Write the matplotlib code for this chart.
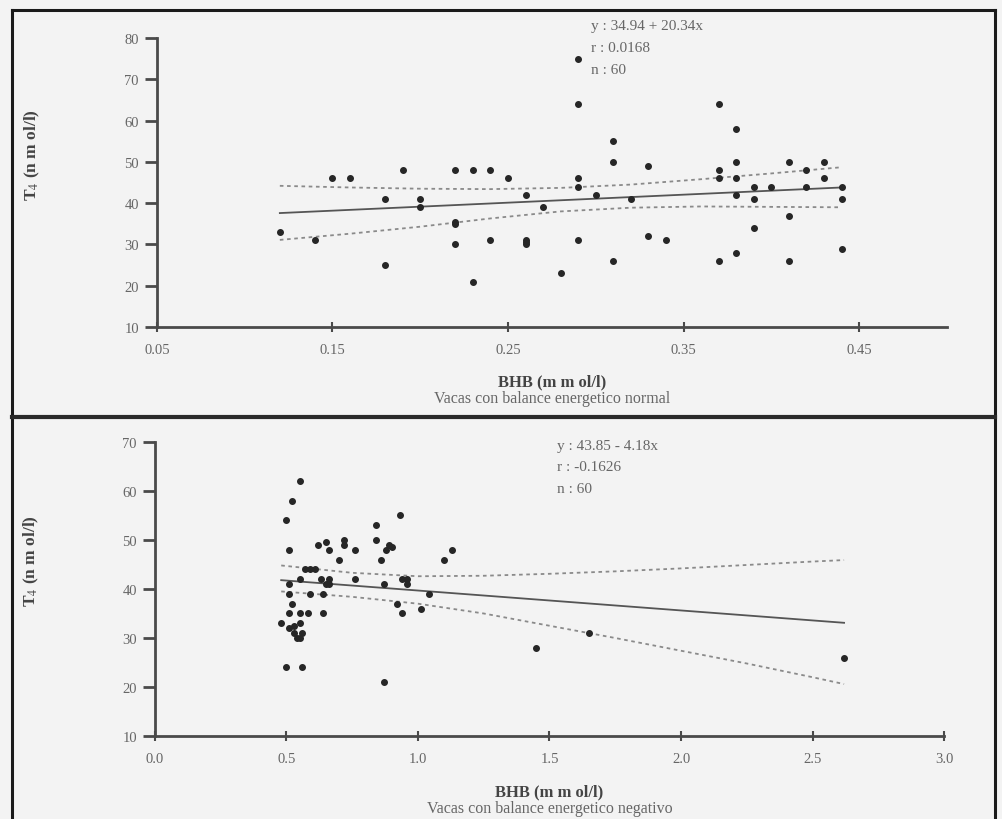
import matplotlib
matplotlib.use('Agg')
import matplotlib.pyplot as plt
from matplotlib.lines import Line2D

# Top panel: cows with normal energy balance
normal_bhb = [0.12, 0.14, 0.15, 0.16, 0.18, 0.18, 0.19, 0.20, 0.20, 0.22,
              0.22, 0.22, 0.22, 0.23, 0.23, 0.24, 0.24, 0.25, 0.26, 0.26,
              0.26, 0.26, 0.27, 0.28, 0.29, 0.29, 0.29, 0.29, 0.29, 0.30,
              0.31, 0.31, 0.31, 0.32, 0.33, 0.33, 0.34, 0.37, 0.37, 0.37,
              0.37, 0.38, 0.38, 0.38, 0.38, 0.38, 0.39, 0.39, 0.39, 0.40,
              0.41, 0.41, 0.41, 0.42, 0.42, 0.43, 0.43, 0.44, 0.44, 0.44]
normal_t4 = [33, 31, 46, 46, 41, 25, 48, 41, 39, 48,
             35, 35.5, 30, 48, 21, 48, 31, 46, 42, 31,
             30, 30.5, 39, 23, 75, 64, 46, 44, 31, 42,
             55, 50, 26, 41, 49, 32, 31, 64, 48, 46,
             26, 58, 50, 46, 42, 28, 44, 41, 34, 44,
             50, 37, 26, 48, 44, 50, 46, 44, 41, 29]
normal_fit_x = [0.12, 0.44]
normal_fit_y = [37.6, 43.8]
normal_band_x = [0.12, 0.16, 0.20, 0.24, 0.28, 0.32, 0.36, 0.40, 0.44]
normal_band_hi = [44.2, 43.8, 43.5, 43.4, 43.7, 44.5, 45.8, 47.2, 48.7]
normal_band_lo = [31.1, 32.6, 34.3, 36.3, 38.0, 38.9, 39.2, 39.1, 39.0]
normal_stats = ['y : 34.94 + 20.34x', 'r : 0.0168', 'n : 60']

# Bottom panel: cows with negative energy balance
neg_bhb = [0.50, 0.52, 0.55, 0.51, 0.50, 0.56, 0.51, 0.55, 0.51, 0.52,
           0.51, 0.55, 0.58, 0.48, 0.55, 0.51, 0.53, 0.55, 0.56, 0.54,
           0.59, 0.61, 0.59, 0.64, 0.64, 0.63, 0.65, 0.66, 0.62, 0.65,
           0.66, 0.70, 0.72, 0.72, 0.76, 0.76, 0.84, 0.84, 0.86, 0.87,
           0.87, 0.89, 0.90, 0.88, 0.93, 0.94, 0.96, 0.92, 0.94, 1.01,
           1.04, 1.10, 1.13, 1.45, 1.65, 2.62, 0.66, 0.53, 0.57, 0.96]
neg_t4 = [54, 58, 62, 48, 24, 24, 41, 42, 39, 37,
          35, 35, 35, 33, 33, 32, 31, 30, 31, 30,
          44, 44, 39, 39, 35, 42, 41, 42, 49, 49.5,
          48, 46, 49, 50, 48, 42, 53, 50, 46, 41,
          21, 49, 48.5, 48, 55, 42, 41, 37, 35, 36,
          39, 46, 48, 28, 31, 26, 41, 32.5, 44, 42]
neg_fit_x = [0.48, 2.62]
neg_fit_y = [41.8, 33.1]
neg_band_x = [0.48, 0.75, 1.0, 1.25, 1.5, 1.75, 2.0, 2.25, 2.5, 2.62]
neg_band_hi = [44.8, 43.3, 42.6, 42.7, 43.1, 43.6, 44.2, 44.9, 45.6, 45.9]
neg_band_lo = [39.5, 38.4, 37.0, 35.0, 32.5, 30.0, 27.4, 24.8, 22.0, 20.6]
neg_stats = ['y : 43.85 - 4.18x', 'r : -0.1626', 'n : 60']

normal_xticks = [0.05, 0.15, 0.25, 0.35, 0.45]
neg_xticks = [0.0, 0.5, 1.0, 1.5, 2.0, 2.5, 3.0]

BG = '#f3f3f3'
TEXT = '#666666'
AXIS = '#4a4a4a'

plt.rcParams['font.family'] = ['Liberation Serif', 'DejaVu Serif']
plt.rcParams['mathtext.fontset'] = 'stix'


def style_axes(ax, xlim, ylim, xticks, xfmt):
    ax.set_facecolor(BG)
    ax.set_xlim(*xlim)
    ax.set_ylim(*ylim)
    for side in ('top', 'right'):
        ax.spines[side].set_visible(False)
    for side in ('left', 'bottom'):
        ax.spines[side].set_color(AXIS)
        ax.spines[side].set_linewidth(2)
    ax.set_xticks(xticks)
    ax.set_xticklabels([xfmt.format(t) for t in xticks])
    ax.set_yticks(range(int(ylim[0]), int(ylim[1]) + 1, 10))
    ax.tick_params(axis='y', direction='out', length=9, width=2, color=AXIS,
                   labelsize=10.5, labelcolor=TEXT, pad=4)
    ax.tick_params(axis='x', direction='inout', length=7, width=1.5, color=AXIS,
                   labelsize=10.5, labelcolor=TEXT, pad=8)
    ax.set_ylabel(r'T$_{4}$ (n m ol/l)', fontsize=12.5, fontweight='bold', color='#444444')
    ax.yaxis.set_label_coords(-0.145, 0.6)


def draw_panel(ax, x, y, fit_x, fit_y, band_x, band_hi, band_lo, stats, stats_xy, subtitle):
    ax.plot(x, y, 'o', color='#262626', markersize=4, zorder=3)
    ax.plot(fit_x, fit_y, color='#555555', linewidth=1.3)
    ax.plot(band_x, band_hi, color='#8a8a8a', linewidth=1.3, linestyle=(0, (2, 2)))
    ax.plot(band_x, band_lo, color='#8a8a8a', linewidth=1.3, linestyle=(0, (2, 2)))
    sx, sy, step = stats_xy
    for i, line in enumerate(stats):
        ax.text(sx, sy - i * step, line, fontsize=11, color=TEXT, va='center',
                ha='left', clip_on=False)
    ax.text(0.5, -0.187, 'BHB (m m ol/l)', transform=ax.transAxes, ha='center',
            va='center', fontsize=12, fontweight='bold', color='#444444')
    ax.text(0.5, -0.245, subtitle, transform=ax.transAxes, ha='center',
            va='center', fontsize=11.5, color=TEXT)


fig = plt.figure(figsize=(10.03, 8.2), dpi=100, facecolor=BG)

ax1 = fig.add_axes([0.1565, 0.6, 0.7875, 0.3524])
style_axes(ax1, (0.05, 0.5), (10, 80), normal_xticks, '{:.2f}')
draw_panel(ax1, normal_bhb, normal_t4, normal_fit_x, normal_fit_y, normal_band_x,
           normal_band_hi, normal_band_lo, normal_stats, (0.297, 83.0, 5.3),
           'Vacas con balance energetico normal')

ax2 = fig.add_axes([0.1545, 0.1012, 0.7867, 0.3586])
style_axes(ax2, (0.0, 3.0), (10, 70), neg_xticks, '{:.1f}')
draw_panel(ax2, neg_bhb, neg_t4, neg_fit_x, neg_fit_y, neg_band_x,
           neg_band_hi, neg_band_lo, neg_stats, (1.53, 69.2, 4.3),
           'Vacas con balance energetico negativo')

# Frame around the figure and divider between panels
frame = dict(color='#1a1a1a', linewidth=2.2, transform=fig.transFigure)
fig.add_artist(Line2D([0.012, 0.012], [0.0, 0.9866], **frame))
fig.add_artist(Line2D([0.012, 0.992], [0.9866, 0.9866], **frame))
fig.add_artist(Line2D([0.992, 0.992], [0.0, 0.9866], **frame))
fig.add_artist(Line2D([0.012, 0.992], [0.4905, 0.4905], color='#2a2a2a', linewidth=3,
                      transform=fig.transFigure))

fig.savefig('out.png', dpi=100, facecolor=BG)
